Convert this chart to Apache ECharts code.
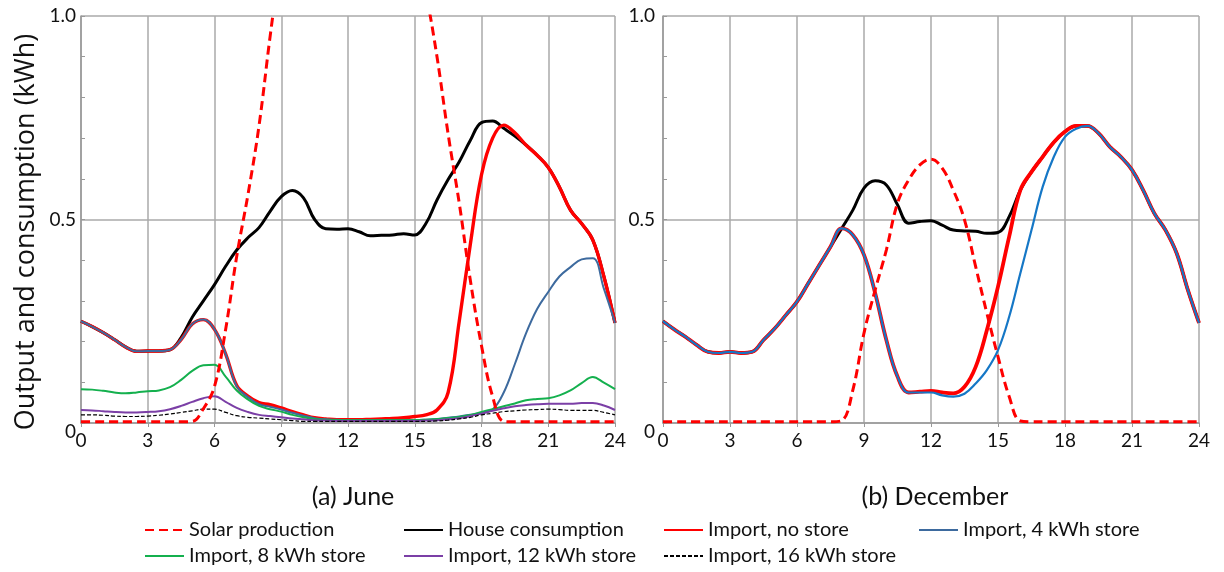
<!DOCTYPE html>
<html>
<head>
<meta charset="utf-8">
<script src="https://cdn.jsdelivr.net/npm/echarts@6/dist/echarts.min.js"></script>
<style>
  html, body { margin: 0; padding: 0; background: #fff; }
  #chart { width: 1224px; height: 572px; }
</style>
</head>
<body>
<div id="chart"></div>
<script>
// half-hourly time steps, 0 .. 24
var hours = [];
for (var i = 0; i <= 48; i++) hours.push(i / 2);

var xTicks = [0, 3, 6, 9, 12, 15, 18, 21, 24];
var yTicks = [0, 0.5, 1.0];
var panelTitles = ['(a) June', '(b) December'];
var yTitle = 'Output and consumption (kWh)';
var seriesNames = ['Solar production', 'House consumption', 'Import, no store',
  'Import, 4 kWh store', 'Import, 8 kWh store', 'Import, 12 kWh store', 'Import, 16 kWh store'];

// ---- June ----
var juneSolar = [0.003, 0.003, 0.003, 0.003, 0.003, 0.003, 0.003, 0.003, 0.003, 0.003,
  0.004, 0.035, 0.09, 0.23, 0.41, 0.56, 0.73, 0.95, 1.15, 1.32,
  1.47, 1.6, 1.7, 1.77, 1.8, 1.78, 1.72, 1.62, 1.5, 1.35,
  1.2, 1.06, 0.9, 0.71, 0.54, 0.35, 0.19, 0.065, 0.004, 0.003,
  0.003, 0.003, 0.003, 0.003, 0.003, 0.003, 0.003, 0.003, 0.003];
var juneHouse = [0.25, 0.237, 0.222, 0.205, 0.187, 0.176, 0.177, 0.177, 0.18, 0.21,
  0.26, 0.30, 0.34, 0.385, 0.425, 0.455, 0.48, 0.52, 0.556, 0.571,
  0.553, 0.5, 0.477, 0.476, 0.477, 0.47, 0.46, 0.461, 0.462, 0.465,
  0.462, 0.49, 0.548, 0.598, 0.642, 0.695, 0.738, 0.742, 0.724, 0.705,
  0.683, 0.658, 0.628, 0.58, 0.523, 0.49, 0.45, 0.36, 0.246];
var juneNoStore = [0.25, 0.237, 0.222, 0.205, 0.187, 0.176, 0.177, 0.177, 0.18, 0.205,
  0.243, 0.254, 0.23, 0.17, 0.092, 0.066, 0.05, 0.045, 0.037, 0.028,
  0.02, 0.013, 0.01, 0.008, 0.008, 0.008, 0.009, 0.01, 0.011, 0.013,
  0.016, 0.02, 0.032, 0.075, 0.25, 0.44, 0.61, 0.70, 0.732, 0.713,
  0.683, 0.658, 0.628, 0.58, 0.523, 0.49, 0.45, 0.36, 0.246];
var juneStore4 = [0.25, 0.237, 0.222, 0.205, 0.187, 0.176, 0.177, 0.177, 0.18, 0.205,
  0.243, 0.254, 0.23, 0.17, 0.09, 0.064, 0.046, 0.04, 0.033, 0.025,
  0.018, 0.012, 0.009, 0.008, 0.007, 0.007, 0.007, 0.007, 0.007, 0.007,
  0.007, 0.008, 0.01, 0.013, 0.016, 0.02, 0.025, 0.033, 0.075, 0.145,
  0.22, 0.28, 0.322, 0.36, 0.383, 0.402, 0.405, 0.33, 0.246];
var juneStore8 = [0.083, 0.082, 0.079, 0.075, 0.073, 0.075, 0.078, 0.08, 0.088, 0.106,
  0.128, 0.142, 0.143, 0.114, 0.08, 0.058, 0.042, 0.034, 0.028, 0.02,
  0.014, 0.01, 0.008, 0.007, 0.007, 0.007, 0.007, 0.007, 0.007, 0.007,
  0.007, 0.008, 0.01, 0.012, 0.015, 0.02, 0.027, 0.034, 0.041, 0.048,
  0.056, 0.059, 0.061, 0.068, 0.08, 0.098, 0.113, 0.099, 0.083];
var juneStore12 = [0.032, 0.031, 0.029, 0.027, 0.026, 0.026, 0.027, 0.029, 0.034, 0.042,
  0.052, 0.061, 0.066, 0.052, 0.037, 0.027, 0.02, 0.017, 0.014, 0.011,
  0.009, 0.007, 0.006, 0.005, 0.005, 0.005, 0.005, 0.005, 0.005, 0.005,
  0.005, 0.006, 0.007, 0.009, 0.012, 0.017, 0.023, 0.03, 0.036, 0.041,
  0.044, 0.046, 0.047, 0.047, 0.047, 0.049, 0.049, 0.043, 0.032];
var juneStore16 = [0.02, 0.02, 0.019, 0.017, 0.016, 0.016, 0.017, 0.019, 0.022, 0.026,
  0.03, 0.034, 0.034, 0.026, 0.018, 0.014, 0.012, 0.01, 0.008, 0.006,
  0.004, 0.004, 0.004, 0.004, 0.004, 0.004, 0.004, 0.004, 0.004, 0.004,
  0.004, 0.004, 0.005, 0.007, 0.01, 0.014, 0.02, 0.024, 0.028, 0.03,
  0.032, 0.033, 0.034, 0.033, 0.031, 0.031, 0.031, 0.026, 0.02];

// ---- December ----
var decSolar = [0.003, 0.003, 0.003, 0.003, 0.003, 0.003, 0.003, 0.003, 0.003, 0.003,
  0.003, 0.003, 0.003, 0.003, 0.003, 0.003, 0.006, 0.081, 0.221, 0.327,
  0.425, 0.54, 0.597, 0.634, 0.648, 0.626, 0.572, 0.499, 0.384, 0.27,
  0.163, 0.065, 0.005, 0.003, 0.003, 0.003, 0.003, 0.003, 0.003, 0.003,
  0.003, 0.003, 0.003, 0.003, 0.003, 0.003, 0.003, 0.003, 0.003];
var decHouse = [0.25, 0.23, 0.212, 0.192, 0.175, 0.172, 0.175, 0.172, 0.175, 0.204,
  0.232, 0.265, 0.298, 0.343, 0.388, 0.433, 0.478, 0.523, 0.577, 0.595,
  0.585, 0.536, 0.491, 0.495, 0.497, 0.486, 0.474, 0.472, 0.471, 0.466,
  0.468, 0.507, 0.572, 0.617, 0.654, 0.69, 0.716, 0.73, 0.73, 0.712,
  0.679, 0.654, 0.622, 0.572, 0.515, 0.474, 0.417, 0.327, 0.246];
var decNoStore = [0.25, 0.23, 0.212, 0.192, 0.175, 0.172, 0.175, 0.172, 0.175, 0.204,
  0.232, 0.265, 0.298, 0.343, 0.388, 0.433, 0.478, 0.462, 0.413, 0.319,
  0.204, 0.114, 0.075, 0.077, 0.079, 0.075, 0.073, 0.089, 0.138, 0.228,
  0.335, 0.458, 0.572, 0.617, 0.654, 0.69, 0.716, 0.73, 0.73, 0.712,
  0.679, 0.654, 0.622, 0.572, 0.515, 0.474, 0.417, 0.327, 0.246];
var decStore4 = [0.25, 0.23, 0.212, 0.192, 0.175, 0.172, 0.175, 0.172, 0.175, 0.204,
  0.232, 0.265, 0.298, 0.343, 0.388, 0.433, 0.478, 0.462, 0.413, 0.319,
  0.204, 0.114, 0.075, 0.075, 0.075, 0.068, 0.065, 0.072, 0.097, 0.13,
  0.179, 0.261, 0.368, 0.474, 0.58, 0.654, 0.703, 0.723, 0.73, 0.712,
  0.679, 0.654, 0.622, 0.572, 0.515, 0.474, 0.417, 0.327, 0.246];

var FONT = 'Lato';

function pairs(arr) {
  return hours.map(function(h, i) { return [h, arr[i]]; });
}

function line(name, idx, arr, color, width, type, z) {
  return {
    name: name,
    type: 'line',
    xAxisIndex: idx,
    yAxisIndex: idx,
    data: pairs(arr),
    smooth: 0.4,
    symbol: 'none',
    z: z,
    lineStyle: { color: color, width: width, type: type || 'solid' },
    itemStyle: { color: color }
  };
}

function xAxisCfg(idx) {
  return {
    type: 'value', gridIndex: idx, min: 0, max: 24, interval: 3,
    axisLine: { show: true, lineStyle: { color: '#999', width: 1.5 } },
    axisTick: { show: true, length: 4, lineStyle: { color: '#999' } },
    splitLine: { show: true, lineStyle: { color: '#aaa', width: 1.5 } },
    axisLabel: { color: '#111', fontSize: 19, fontFamily: FONT, margin: 8 }
  };
}

function yAxisCfg(idx) {
  return {
    type: 'value', gridIndex: idx, min: 0, max: 1, interval: 0.5,
    axisLine: { show: true, lineStyle: { color: '#999', width: 1.5 } },
    axisTick: { show: true, inside: true, length: 4, lineStyle: { color: '#999' } },
    minorTick: { show: true, splitNumber: 5, length: 4, lineStyle: { color: '#999' } },
    splitLine: { show: true, lineStyle: { color: '#aaa', width: 1.5 } },
    axisLabel: {
      color: '#111', fontSize: 19, fontFamily: FONT, margin: idx === 0 ? 5 : 8,
      formatter: function(v) { return v === 0 ? '{z|0}' : v.toFixed(1); },
      rich: { z: { fontSize: 19, fontFamily: FONT, color: '#111', padding: [18, 0, 0, 0] } }
    }
  };
}

var legendPos = [
  [144, 520], [403, 520], [663, 520], [918, 520],
  [144, 546], [403, 546], [663, 546]
];

var legends = seriesNames.map(function(n, i) {
  return {
    data: [n], left: legendPos[i][0], top: legendPos[i][1],
    padding: 0, itemWidth: 39, itemHeight: 14,
    itemStyle: { opacity: 0 },
    textStyle: { fontSize: 20, fontFamily: FONT, color: '#111' }
  };
});

var chart = echarts.init(document.getElementById('chart'));
chart.setOption({
  animation: false,
  textStyle: { fontFamily: FONT },
  title: [
    { text: panelTitles[0], left: 348, top: 479, textAlign: 'center',
      textStyle: { fontSize: 25, fontWeight: 'normal', fontFamily: FONT, color: '#111' } },
    { text: panelTitles[1], left: 930, top: 479, textAlign: 'center',
      textStyle: { fontSize: 25, fontWeight: 'normal', fontFamily: FONT, color: '#111' } }
  ],
  graphic: [{
    type: 'text', x: 26, y: 232, rotation: Math.PI / 2,
    style: { text: yTitle, font: '27px "Open Sans"', fill: '#111',
      align: 'center', verticalAlign: 'middle' }
  }],
  legend: legends,
  grid: [
    { left: 81, top: 16, width: 534, height: 407 },
    { left: 663, top: 16, width: 536, height: 407 }
  ],
  xAxis: [xAxisCfg(0), xAxisCfg(1)],
  yAxis: [yAxisCfg(0), yAxisCfg(1)],
  series: [
    line(seriesNames[1], 0, juneHouse, '#000000', 3, 'solid', 2),
    line(seriesNames[2], 0, juneNoStore, '#ff0000', 3.4, 'solid', 3),
    line(seriesNames[3], 0, juneStore4, '#3d6a9e', 2, 'solid', 4),
    line(seriesNames[4], 0, juneStore8, '#14b04e', 2, 'solid', 5),
    line(seriesNames[5], 0, juneStore12, '#7b3fa6', 2, 'solid', 6),
    line(seriesNames[6], 0, juneStore16, '#000000', 1.2, [4, 2], 7),
    line(seriesNames[0], 0, juneSolar, '#ff0000', 3, [9, 5], 8),

    line(seriesNames[1], 1, decHouse, '#000000', 3, 'solid', 2),
    line(seriesNames[2], 1, decNoStore, '#ff0000', 3.8, 'solid', 3),
    line(seriesNames[3], 1, decStore4, '#1577c6', 2.2, 'solid', 4),
    line(seriesNames[0], 1, decSolar, '#ff0000', 3, [9, 5], 8)
  ]
});
</script>
</body>
</html>
